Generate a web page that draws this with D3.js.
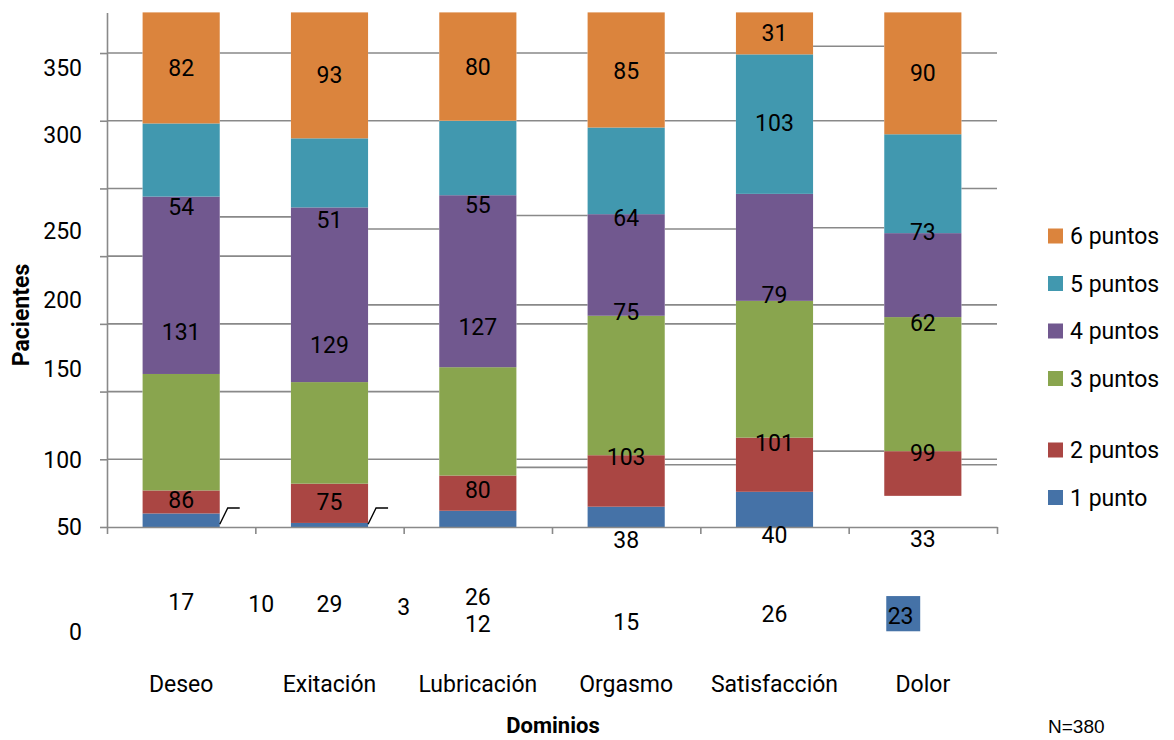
<!DOCTYPE html>
<html>
<head>
<meta charset="utf-8">
<script src="https://cdn.jsdelivr.net/npm/d3@7"></script>
<style>
  body { margin: 0; background: #fff; }
  text { font-family: Roboto, "Noto Sans", sans-serif; fill: #000; }
</style>
</head>
<body>
<div class="container"></div>
<script>
const WIDTH = 1174;
const HEIGHT = 740;

// dominios (categorias)
var categories = ['Deseo', 'Exitación', 'Lubricación', 'Orgasmo', 'Satisfacción', 'Dolor'];
var seriesNames = ['1 punto', '2 puntos', '3 puntos', '4 puntos', '5 puntos', '6 puntos'];

// pacientes por puntuacion
var punto1 = [10, 3, 12, 15, 26, 23];
var puntos2 = [17, 29, 26, 38, 40, 33];
var puntos3 = [86, 75, 80, 103, 101, 99];
var puntos4 = [131, 129, 127, 75, 79, 62];
var puntos5 = [54, 51, 55, 64, 103, 73];
var puntos6 = [82, 93, 80, 85, 31, 90];

var colors = ['#4572A7', '#AA4643', '#89A54E', '#71588F', '#4198AF', '#DB843D'];

// where the data labels sit in the original (value units), and sideways shift (in category steps)
var labelAt1 = [-57, -59, -71.6, -70, -64, -65.7];
var labelAt2 = [-55.4, -57, -51.7, -9.6, -5.9, -8.9];
var labelAt3 = [20, 18.5, 27.3, 51.7, 62, 54.6];
var labelAt4 = [144, 134.4, 147.7, 158.8, 171.3, 150.6];
var labelAt5 = [236.3, 226.7, 237.8, 228.2, 298.3, 217.8];
var labelAt6 = [338.9, 333.7, 339.7, 336.7, 364.8, 335.3];
var labelShift1 = [0.54, 0.5, 0, 0, 0, -0.15];

// y axis ticks and where their labels ended up
var yTicks = [0, 50, 100, 150, 200, 250, 300, 350];
var yTickLabels = ['0', '50', '100', '150', '200', '250', '300', '350'];
var yTickLabelAt = [-77.5, 0, 50, 116.7, 167.6, 218.6, 289.5, 339];

// gridline pieces seen in each gap between bars (value units)
var gridGaps = [
    [350, 300, 250, 200, 150, 100, 50],
    [350, 300, 229, 200, 150, 100, 50],
    [350, 300, 220, 164, 150, 100, 50],
    [350, 300, 230, 164, 150, 50, 44],
    [350, 300, 220, 164, 150, 50, 46],
    [355, 300, 221, 164, 150, 56],
    [350, 300, 250, 164, 150, 50, 46]
];

// the Dolor "1 punto" block fell out of its bar
var strayFrom = -77;
var strayTo = -51;
var strayCat = 'Dolor';

// small leader marks next to the first two bars
var leaderCats = ['Deseo', 'Exitación'];

var allSeries = [punto1, puntos2, puntos3, puntos4, puntos5, puntos6];
var allLabelAt = [labelAt1, labelAt2, labelAt3, labelAt4, labelAt5, labelAt6];

var translate = function(x, y) {
    return `translate(${x},${y})`;
};

var svg = d3.select('.container').append('svg')
    .attr('width', WIDTH)
    .attr('height', HEIGHT);

var x = d3.scaleBand()
    .domain(categories)
    .range([107, 997])
    .paddingInner(0.48)
    .paddingOuter(0.24);
var bw = x.bandwidth();
var step = x.step();

var y = d3.scaleLinear()
    .domain([0, 380])
    .range([527, 12.4]);

var table = categories.map(function(c, i) {
    var row = { cat: c };
    seriesNames.forEach(function(s, k) { row[s] = allSeries[k][i]; });
    return row;
});
var stacked = d3.stack().keys(seriesNames)(table);

// gridline pieces
var gridG = svg.append('g');
gridGaps.forEach(function(vals, g) {
    var x0 = g === 0 ? x.range()[0] : x(categories[g - 1]) + bw;
    var x1 = g === categories.length ? x.range()[1] : x(categories[g]);
    gridG.selectAll(null).data(vals).enter()
        .append('line')
        .attr('x1', x0).attr('x2', x1)
        .attr('y1', (d) => y(d)).attr('y2', (d) => y(d))
        .attr('stroke', '#898989')
        .attr('stroke-width', 1.6);
});

// bars
stacked.forEach(function(layer, k) {
    svg.append('g').selectAll('rect')
        .data(layer.filter((d) => !(k === 0 && d.data.cat === strayCat)))
        .enter().append('rect')
        .attr('x', (d) => x(d.data.cat))
        .attr('width', bw)
        .attr('y', (d) => y(d[1]))
        .attr('height', (d) => y(d[0]) - y(d[1]))
        .attr('fill', colors[k]);
});

svg.append('rect')
    .attr('x', x(strayCat) + 2)
    .attr('width', bw * 0.44)
    .attr('y', y(strayTo))
    .attr('height', y(strayFrom) - y(strayTo))
    .attr('fill', colors[0]);

// axes
var yAxis = d3.axisLeft(y).tickValues(yTicks).tickFormat('').tickSize(7).tickSizeOuter(0);
svg.append('g')
    .attr('transform', translate(107, 0))
    .call(yAxis)
    .call((g) => g.selectAll('path, line').attr('stroke', '#898989').attr('stroke-width', 1.6));

var bounds = d3.scaleLinear().domain([0, categories.length]).range(x.range());
var xAxis = d3.axisBottom(bounds).ticks(categories.length).tickFormat('').tickSize(7).tickSizeOuter(0);
svg.append('g')
    .attr('transform', translate(0, y(0)))
    .call(xAxis)
    .call((g) => g.selectAll('path, line').attr('stroke', '#898989').attr('stroke-width', 1.6));

var catAxis = d3.axisBottom(x).tickSize(0).tickPadding(0);
svg.append('g')
    .attr('transform', translate(0, 676))
    .call(catAxis)
    .call((g) => g.select('.domain').remove())
    .selectAll('text')
    .style('font-family', 'Roboto, sans-serif')
    .style('font-size', '23px')
    .attr('fill', '#000');

// y tick labels
svg.append('g').selectAll('text')
    .data(yTickLabels).enter()
    .append('text')
    .attr('x', 82)
    .attr('y', (d, i) => y(yTickLabelAt[i]))
    .attr('dy', '0.36em')
    .attr('text-anchor', 'end')
    .style('font-size', '23px')
    .text((d) => d);

// leader marks
svg.append('g').selectAll('path')
    .data(leaderCats).enter()
    .append('path')
    .attr('d', function(c) {
        var x0 = x(c) + bw;
        return `M${x0},${y(2)}L${x0 + 8},${y(14)}L${x0 + 20},${y(14)}`;
    })
    .attr('fill', 'none')
    .attr('stroke', '#000')
    .attr('stroke-width', 1.4);

// data labels
allSeries.forEach(function(vals, k) {
    svg.append('g').selectAll('text')
        .data(vals).enter()
        .append('text')
        .attr('x', (d, i) => x(categories[i]) + bw / 2 + (k === 0 ? labelShift1[i] * step : 0))
        .attr('y', (d, i) => y(allLabelAt[k][i]))
        .attr('dy', '0.36em')
        .attr('text-anchor', 'middle')
        .style('font-size', '23px')
        .text((d) => d);
});

// legend
var legend = svg.append('g');
var legendOrder = seriesNames.slice().reverse();
legendOrder.forEach(function(s, i) {
    var cy = 236 + i * 47.5 + (i >= 4 ? 24 : 0);
    legend.append('rect')
        .attr('x', 1048).attr('y', cy - 7.5)
        .attr('width', 15).attr('height', 15)
        .attr('fill', colors[seriesNames.indexOf(s)]);
    legend.append('text')
        .attr('x', 1070).attr('y', cy)
        .attr('dy', '0.36em')
        .style('font-size', '23px')
        .text(s);
});

// titles
svg.append('text')
    .attr('transform', translate(21, 315) + ' rotate(-90)')
    .attr('dy', '0.36em')
    .attr('text-anchor', 'middle')
    .style('font-size', '23px')
    .style('font-weight', 'bold')
    .text('Pacientes');

svg.append('text')
    .attr('x', 553).attr('y', 733)
    .attr('text-anchor', 'middle')
    .style('font-size', '22px')
    .style('font-weight', 'bold')
    .text('Dominios');

svg.append('text')
    .attr('x', 1048).attr('y', 733)
    .style('font-family', '"Liberation Sans", sans-serif')
    .style('font-size', '19px')
    .text('N=380');
</script>
</body>
</html>
